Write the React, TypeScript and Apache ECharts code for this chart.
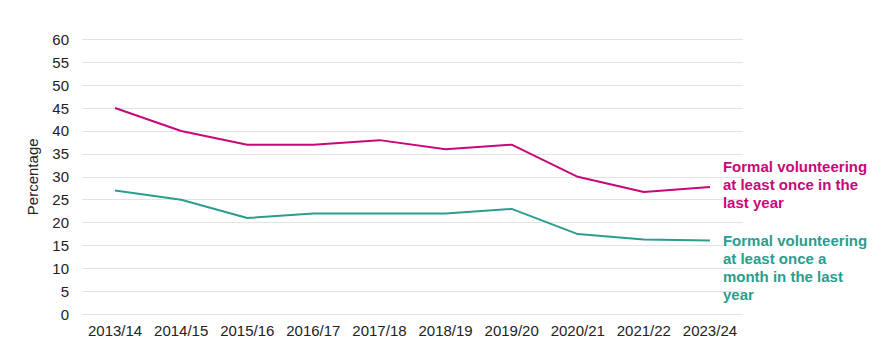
import React, { useEffect, useRef } from "react";
import * as echarts from "echarts";

const categories = ["2013/14", "2014/15", "2015/16", "2016/17", "2017/18", "2018/19", "2019/20", "2020/21", "2021/22", "2023/24"];
const yearlyValues = [45, 40, 37, 37, 38, 36, 37, 30, 26.7, 27.8];
const monthlyValues = [27, 25, 21, 22, 22, 22, 23, 17.5, 16.3, 16.1];
const yearlyLabel = "Formal volunteering\nat least once in the\nlast year";
const monthlyLabel = "Formal volunteering\nat least once a\nmonth in the last\nyear";

const MAGENTA = "#C8077A";
const TEAL = "#2A9D8E";
const FONT = "Liberation Sans, Arial, sans-serif";

export default function App() {
  const ref = useRef<HTMLDivElement>(null);
  useEffect(() => {
    if (!ref.current) return;
    const chart = echarts.init(ref.current, undefined, { renderer: "svg" });
    chart.setOption({
      animation: false,
      textStyle: { fontFamily: FONT },
      grid: { left: 82, right: 139, top: 39.3, bottom: 39.7 },
      xAxis: {
        type: "category",
        data: categories,
        boundaryGap: true,
        axisLine: { show: false },
        axisTick: { show: false },
        axisLabel: { color: "#222", fontSize: 15, margin: 9, fontFamily: FONT, interval: 0, hideOverlap: false },
      },
      yAxis: {
        type: "value",
        min: 0,
        max: 60,
        interval: 5,
        name: "Percentage",
        nameLocation: "middle",
        nameGap: 42,
        nameTextStyle: { color: "#222", fontSize: 15, fontFamily: FONT },
        axisLine: { show: false },
        axisTick: { show: false },
        axisLabel: { color: "#222", fontSize: 15, margin: 13, fontFamily: FONT },
        splitLine: { lineStyle: { color: "#e3e3e3", width: 1 } },
      },
      series: [
        {
          type: "line",
          data: yearlyValues,
          symbol: "none",
          lineStyle: { color: MAGENTA, width: 2 },
          itemStyle: { color: MAGENTA },
          endLabel: {
            show: true,
            formatter: yearlyLabel,
            color: MAGENTA,
            fontSize: 15,
            fontWeight: "bold",
            fontFamily: FONT,
            lineHeight: 18,
            align: "left",
            verticalAlign: "middle",
            distance: 13,
            offset: [0, -2],
          },
        },
        {
          type: "line",
          data: monthlyValues,
          symbol: "none",
          lineStyle: { color: TEAL, width: 2 },
          itemStyle: { color: TEAL },
          endLabel: {
            show: true,
            formatter: monthlyLabel,
            color: TEAL,
            fontSize: 15,
            fontWeight: "bold",
            fontFamily: FONT,
            lineHeight: 18,
            align: "left",
            verticalAlign: "middle",
            distance: 13,
            offset: [0, 27],
          },
        },
      ],
    });
    return () => chart.dispose();
  }, []);
  return <div ref={ref} style={{ width: 882, height: 354, position: "absolute", left: 0, top: 0 }} />;
}
